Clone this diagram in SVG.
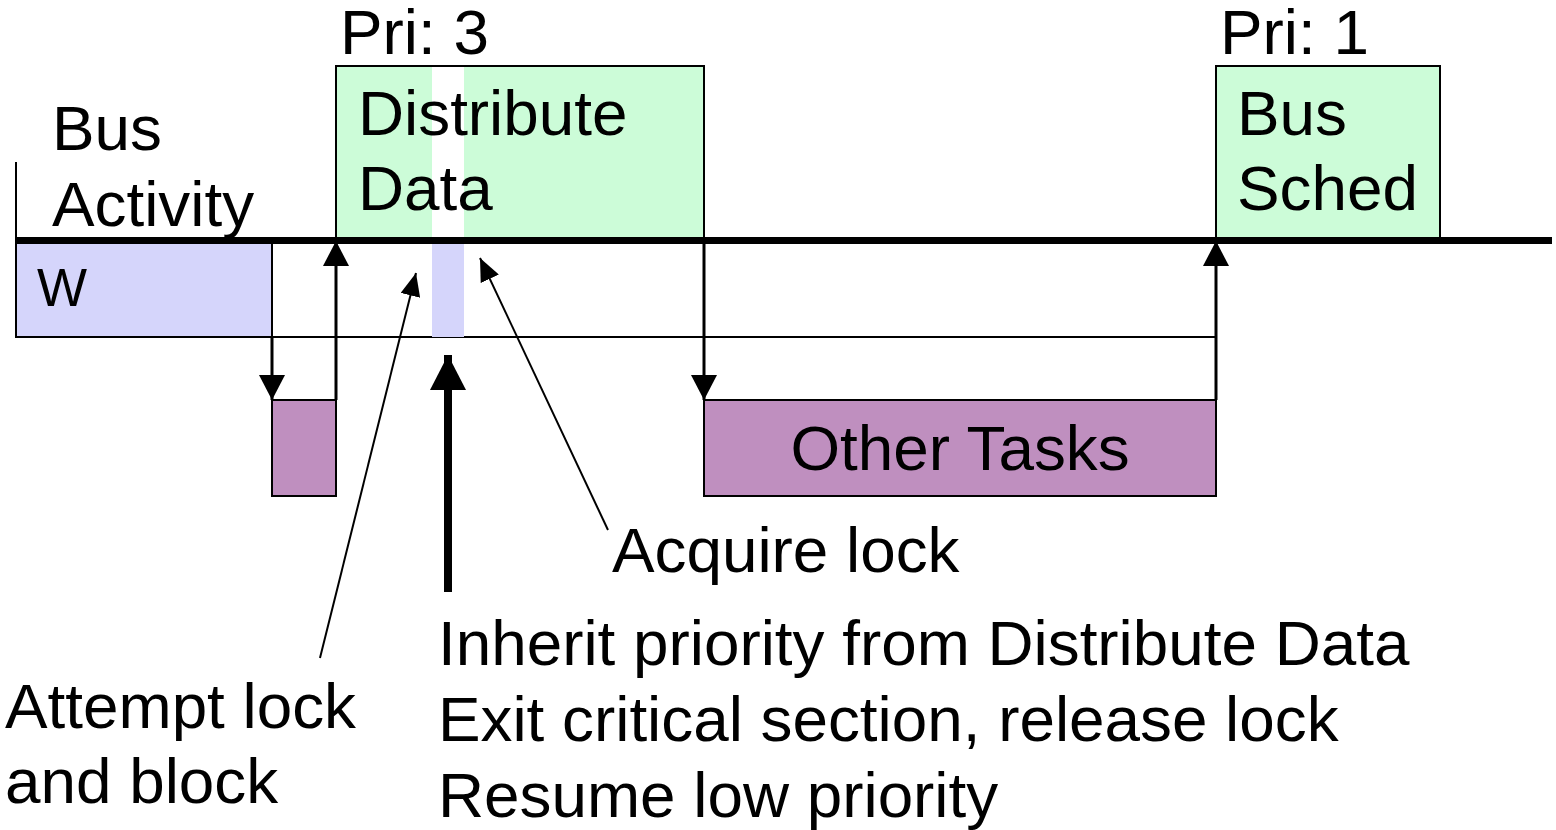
<svg xmlns="http://www.w3.org/2000/svg" width="1556" height="830" viewBox="0 0 1556 830">
<style>
text{font-family:"Liberation Sans",Arial,sans-serif;font-size:63.8px;fill:#000}
.green{fill:#ccfcd8;stroke:#000;stroke-width:2}
.lav{fill:#d5d5fb}
.purp{fill:#bf8fbf;stroke:#000;stroke-width:2}
.conn{stroke:#000;stroke-width:3;fill:none}
.thin{stroke:#000;stroke-width:2;fill:none}
</style>
<defs>
<marker id="ah" markerUnits="userSpaceOnUse" markerWidth="26" markerHeight="26" refX="25" refY="13" orient="auto" viewBox="0 0 26 26"><path d="M0,0 L25,13 L0,26 Z" fill="#000"/></marker>
<marker id="as" markerUnits="userSpaceOnUse" markerWidth="24" markerHeight="20" refX="23" refY="10" orient="auto" viewBox="0 0 24 20"><path d="M0,0 L23,10 L0,20 Z" fill="#000"/></marker>
<marker id="ab" markerUnits="userSpaceOnUse" markerWidth="36" markerHeight="36" refX="35" refY="18" orient="auto" viewBox="0 0 36 36"><path d="M0,0 L35,18 L0,36 Z" fill="#000"/></marker>
</defs>
<g id="timeline">
<line x1="16" y1="162" x2="16" y2="241" stroke="#000" stroke-width="2"/>
<line x1="16" y1="337" x2="1216" y2="337" stroke="#000" stroke-width="2"/>
</g>
<g id="w">
<rect x="16" y="241" width="256" height="96" class="lav" stroke="#000" stroke-width="2"/>
<text x="37" y="306" style="font-size:53px">W</text>
</g>
<g id="distribute">
<rect x="336" y="66" width="368" height="174" class="green"/>
<rect x="432" y="67" width="32" height="173" fill="#fff"/>
<text x="358" y="135">Distribute</text>
<text x="358" y="210">Data</text>
</g>
<g id="crit">
<rect x="432" y="241" width="32" height="96" class="lav"/>
</g>
<g id="bussched">
<rect x="1216" y="66" width="224" height="174" class="green"/>
<text x="1237" y="135">Bus</text>
<text x="1237" y="210">Sched</text>
</g>
<g id="small">
<rect x="272" y="400" width="64" height="96" class="purp"/>
</g>
<g id="other">
<rect x="704" y="400" width="512" height="96" class="purp"/>
<text x="960" y="470" text-anchor="middle">Other Tasks</text>
</g>
<g id="labels">
<text x="340" y="54">Pri: 3</text>
<text x="1220" y="54">Pri: 1</text>
<text x="52" y="150">Bus</text>
<text x="52" y="226">Activity</text>
<text x="612" y="572">Acquire lock</text>
<text x="438" y="665">Inherit priority from Distribute Data</text>
<text x="438" y="741">Exit critical section, release lock</text>
<text x="438" y="817">Resume low priority</text>
<text x="5" y="728">Attempt lock</text>
<text x="5" y="803">and block</text>
</g>
<line x1="16" y1="240.5" x2="1552" y2="240.5" stroke="#000" stroke-width="7"/>
<g id="connectors">
<line x1="272" y1="337" x2="272" y2="400" class="conn" marker-end="url(#ah)"/>
<line x1="336" y1="400" x2="336" y2="241" class="conn" marker-end="url(#ah)"/>
<line x1="704" y1="241" x2="704" y2="400" class="conn" marker-end="url(#ah)"/>
<line x1="1216" y1="400" x2="1216" y2="241" class="conn" marker-end="url(#ah)"/>
<line x1="448" y1="592" x2="448" y2="355" stroke="#000" stroke-width="8" marker-end="url(#ab)"/>
<line x1="320" y1="658" x2="416" y2="273" class="thin" marker-end="url(#as)"/>
<line x1="608" y1="530" x2="480" y2="258" class="thin" marker-end="url(#as)"/>
</g>
</svg>
